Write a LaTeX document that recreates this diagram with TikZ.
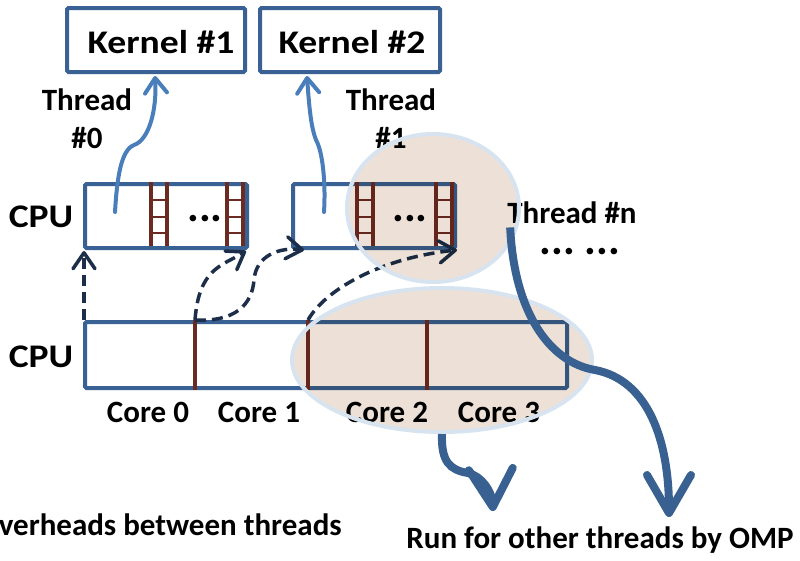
\documentclass[tikz,border=0pt]{standalone}
\usepackage{fontspec}
\setmainfont{Carlito}
\newfontfamily\headfam{Carlito}[FakeStretch=1.14]
\usetikzlibrary{arrows.meta,shapes.geometric,calc}

\definecolor{boxblue}{HTML}{3A6194}
\definecolor{threadblue}{HTML}{4A7EBB}
\definecolor{ladderbrown}{HTML}{6B2B22}
\definecolor{dashnavy}{HTML}{1C2E4A}
\definecolor{bigblue}{HTML}{386090}
\definecolor{ellfill}{HTML}{EDE1D7}
\definecolor{ellborder}{HTML}{D8E3F0}

\newcommand\lblfont{\fontsize{31}{38}\selectfont\bfseries}
\newcommand\headfont{\fontsize{33}{38}\selectfont\headfam\bfseries}
\newcommand\dotfont{\fontsize{44}{44}\selectfont\bfseries}

\begin{document}
\begin{tikzpicture}[x=1pt,y=-1pt,
  box/.style={draw=boxblue,line width=4pt,rounded corners=1.5pt,inner sep=0pt},
  head/.style={font=\headfont,inner sep=0pt},
  lbl/.style={font=\lblfont,inner sep=0pt},
  dots/.style={font=\dotfont,inner sep=0pt},
  rail/.style={draw=ladderbrown,line width=4pt},
  rung/.style={draw=ladderbrown,line width=2.5pt},
  threadarrow/.style={draw=threadblue,line width=4pt,line cap=round,
    -{Straight Barb[length=15pt,width=22pt,round]}},
  dasharrow/.style={draw=dashnavy,line width=3.5pt,dash pattern=on 11pt off 6pt,
    -{Straight Barb[length=16pt,width=22pt,round]}},
  bigarrow/.style={draw=bigblue,line width=8pt,
    -{Straight Barb[length=38pt,width=44pt,round]}},
  ellback/.style={fill=ellfill},
  ellring/.style={ellipse,draw=ellborder,line width=4pt,inner sep=0pt},
  ladder/.pic={
    \draw[rail] (0,0) -- (0,64) (16,0) -- (16,64);
    \draw[rung] (0,18) -- (16,18) (0,35) -- (16,35) (0,51) -- (16,51);
  }]
\useasboundingbox (0,0) rectangle (800,560);
\clip (0,0) rectangle (800,560);

% kernel boxes
\node[box,minimum width=178,minimum height=64] (k1) at (156,40) {};
\node[box,minimum width=180,minimum height=64] (k2) at (350,40) {};
\node[head] (k1t) at ($(k1.center)+(5,2)$) {Kernel \#1};
\node[head] (k2t) at ($(k2.center)+(2,2)$) {Kernel \#2};

% thread boxes of the upper CPU
\node[box,minimum width=162,minimum height=64] (c1) at (166,216) {};
\node[box,minimum width=162,minimum height=64] (c2) at (374,216) {};
\pic at (c1.north west) [xshift=68pt] {ladder};
\pic at (c1.north west) [xshift=144pt] {ladder};
\pic at (c2.north west) [xshift=66pt] {ladder};
\pic at (c2.north west) [xshift=145pt] {ladder};
\node[dots] (dots1) at (205,219) {...};
\node[dots] (dots2) at (410,219) {...};

% lower CPU with its cores
\node[box,minimum width=482,minimum height=66] (cpu) at (326,355) {};
\coordinate (dv0) at ($(cpu.north west)+(112,0)$);
\coordinate (dv1) at ($(cpu.north west)+(225,0)$);
\coordinate (dv2) at ($(cpu.north west)+(344,0)$);
\draw[rail] (dv0) -- ($(cpu.south west)+(112,0)$);
\draw[rail] (dv1) -- ($(cpu.south west)+(225,0)$);
\draw[rail] (dv2) -- ($(cpu.south west)+(344,0)$);

% labels
\node[head] (cpuA) at (41,217) {CPU};
\node[head] (cpuB) at (41,357) {CPU};
\node[lbl,anchor=north,align=center] (th0) at (87,89) {Thread\\\#0};
\node[lbl,anchor=north,align=center] (th1) at (391,89) {Thread\\\#1};
\node[lbl,anchor=base] (thn) at (572,223) {Thread \#n};
\node[dots] (more) at (580,252) {...\hspace{10pt}...};
\node[lbl,anchor=base] (core0) at (148,422) {Core 0};
\node[lbl,anchor=base] (core1) at (259,422) {Core 1};
\node[lbl,anchor=base] (core2) at (387,422) {Core 2};
\node[lbl,anchor=base] (core3) at (499,422) {Core 3};

% threads mapped onto kernels
\coordinate (t0s) at ($(c1.north west)+(32,30)$);
\coordinate (t0e) at ($(k1.south west)+(90,2)$);
\coordinate (t1s) at ($(c2.north west)+(33,30)$);
\coordinate (t1e) at ($(k2.south west)+(49,2)$);
\draw[threadarrow] (t0s) .. controls (117,178) and (121,150) .. (134,145)
  .. controls (149,140) and (157,110) .. (t0e);
\draw[threadarrow] (t1s) .. controls (326,180) and (322,152) .. (317,142)
  .. controls (311,130) and (309,105) .. (t1e);

% switching overheads between threads
\coordinate (d0s) at ($(cpu.north west)+(1,0)$);
\coordinate (d0e) at ($(c1.south west)+(1,1)$);
\coordinate (d1e) at ($(c1.south east)+(-3,1)$);
\coordinate (d2e) at ($(c2.south west)+(13,0)$);
\coordinate (d3e) at (c2.south east);
\draw[dasharrow] (d0s) -- (d0e);
\draw[dasharrow] (dv0) .. controls (199,268) and (222,266) .. (d1e);
\draw[dasharrow] (dv0) .. controls (235,322) and (252,305) .. (254,280)
  .. controls (256,255) and (280,247) .. (d2e);
\draw[dasharrow] (dv1) .. controls (325,290) and (380,258) .. (d3e);

% highlighted regions
\begin{scope}[blend mode=multiply]
  \fill[ellback] (433,208) ellipse [x radius=86,y radius=74];
  \fill[ellback] (442,360) ellipse [x radius=150,y radius=72];
\end{scope}
\node[ellring,minimum width=172,minimum height=148] (e1) at (433,208) {};
\node[ellring,minimum width=300,minimum height=144] (e2) at (442,360) {};

% OMP runs the remaining threads
\coordinate (tns) at ($(thn.south west)+(3,4)$);
\coordinate (tne) at (669,517);
\coordinate (ce) at (493,511);
\draw[bigarrow] (tns) .. controls (514,310) and (548,362) .. (595,370)
  .. controls (648,380) and (669,440) .. (tne);
\draw[bigarrow] (e2.south) .. controls (441,462) and (450,470) .. (468,473)
  .. controls (482,476) and (492,492) .. (ce);

% captions
\node[lbl,anchor=base east] (ovh) at (342,535) {Overheads between threads};
\node[lbl,anchor=base] (run) at (600,548) {Run for other threads by OMP};
\end{tikzpicture}
\end{document}
